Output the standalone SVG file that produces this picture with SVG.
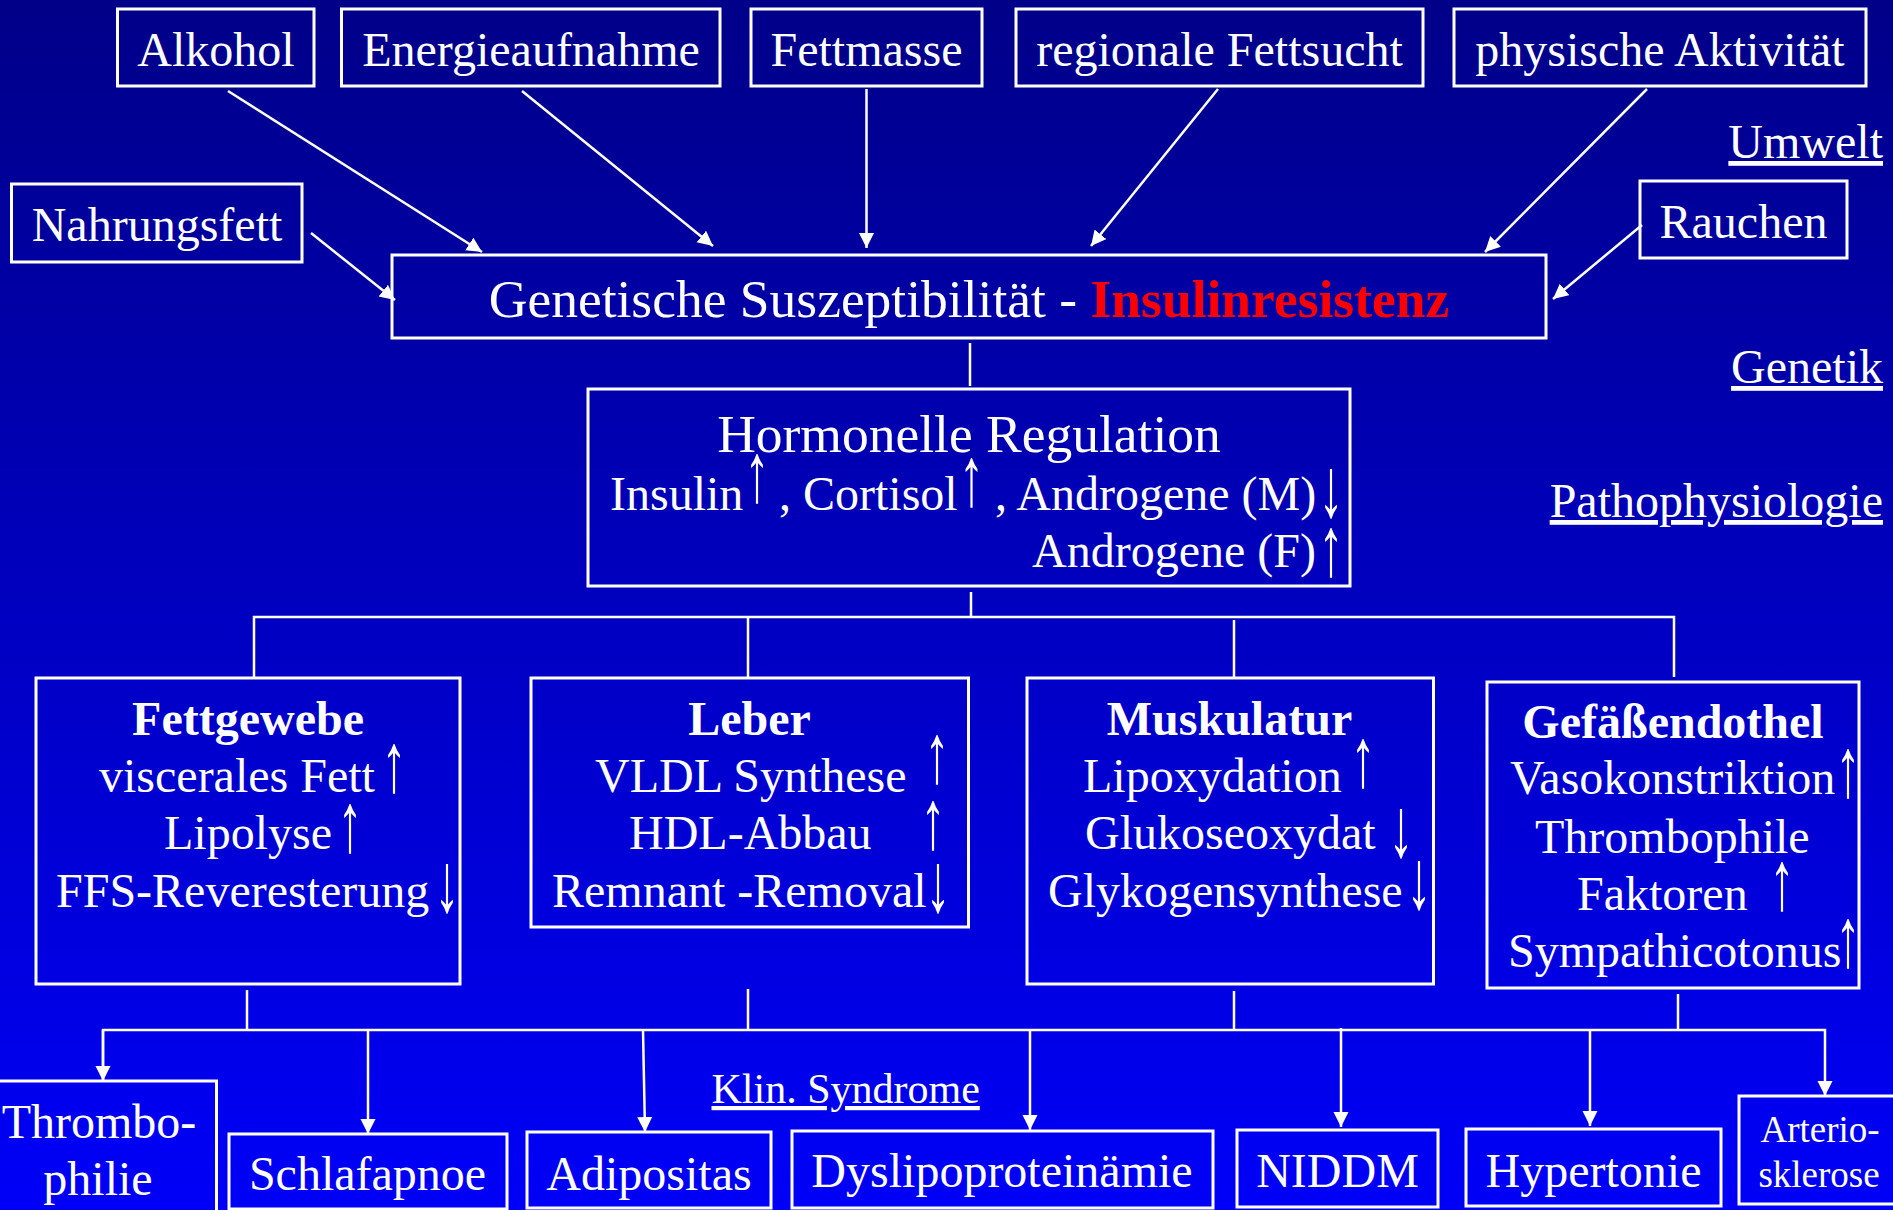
<svg xmlns="http://www.w3.org/2000/svg" width="1893" height="1210" viewBox="0 0 1893 1210">
<defs>
<linearGradient id="bg" x1="0" y1="0" x2="0" y2="1">
<stop offset="0" stop-color="#000088"/>
<stop offset="1" stop-color="#0000F8"/>
</linearGradient>
<marker id="ah" markerUnits="userSpaceOnUse" markerWidth="16" markerHeight="16" refX="15" refY="7.5" orient="auto">
<path d="M0,0 L15,7.5 L0,15 z" fill="#ffffff"/>
</marker>
</defs>
<style>
text{font-family:"Liberation Serif","Times New Roman",serif;fill:#ffffff;font-size:48px}
.box{fill:none;stroke:#ffffff;stroke-width:3}
.c{text-anchor:middle}
.e{text-anchor:end}
.b{font-weight:bold}
.big{font-size:53.5px}
.red{fill:#ff0000;font-weight:bold}
.ar{text-anchor:middle;font-size:84px}
.u{text-decoration:underline}
.sm{font-size:37px}
#connectors line,#connectors path{stroke:#ffffff;stroke-width:2.5;fill:none}
.arr{marker-end:url(#ah)}
</style>
<rect x="0" y="0" width="1893" height="1210" fill="url(#bg)"/>

<g id="connectors">
<line class="arr" x1="228" y1="91" x2="482" y2="252"/>
<line class="arr" x1="522" y1="91" x2="713" y2="246"/>
<line class="arr" x1="866.5" y1="89" x2="866.5" y2="248"/>
<line class="arr" x1="1218" y1="89" x2="1091" y2="246"/>
<line class="arr" x1="1647" y1="89" x2="1485" y2="252"/>
<line class="arr" x1="311" y1="233" x2="395" y2="300"/>
<line class="arr" x1="1642" y1="225" x2="1553" y2="299"/>
<line x1="970" y1="343" x2="970" y2="386"/>
<line x1="971" y1="592" x2="971" y2="617"/>
<path d="M254,677 V617 H1674 V677"/>
<line x1="748" y1="617" x2="748" y2="677"/>
<line x1="1234" y1="620" x2="1234" y2="677"/>
<line x1="247" y1="990" x2="247" y2="1030"/>
<line x1="748" y1="989" x2="748" y2="1030"/>
<line x1="1234" y1="991" x2="1234" y2="1030"/>
<line x1="1678" y1="994" x2="1678" y2="1030"/>
<path class="arr" d="M103,1081 V1030 H1825 V1096"/>
<line class="arr" x1="103" y1="1030" x2="103" y2="1081"/>
<line class="arr" x1="368" y1="1030" x2="368" y2="1134"/>
<line class="arr" x1="643" y1="1030" x2="645" y2="1132"/>
<line class="arr" x1="1030" y1="1030" x2="1030" y2="1130"/>
<line class="arr" x1="1341" y1="1028" x2="1341" y2="1127"/>
<line class="arr" x1="1590" y1="1030" x2="1590" y2="1126"/>
</g>

<g id="alkohol"><rect class="box" x="117.5" y="9" width="196.5" height="77"/><text class="c" x="216" y="66">Alkohol</text></g>
<g id="energieaufnahme"><rect class="box" x="341.5" y="9" width="378.5" height="77"/><text class="c" x="531" y="66">Energieaufnahme</text></g>
<g id="fettmasse"><rect class="box" x="751" y="9" width="231" height="77"/><text class="c" x="866.5" y="66">Fettmasse</text></g>
<g id="regionale-fettsucht"><rect class="box" x="1016" y="9" width="407" height="77"/><text class="c" x="1219.5" y="66">regionale Fettsucht</text></g>
<g id="physische-aktivitaet"><rect class="box" x="1454" y="9" width="412" height="77"/><text class="c" x="1660" y="66">physische Aktivität</text></g>
<g id="nahrungsfett"><rect class="box" x="11.5" y="184" width="290.5" height="78"/><text class="c" x="157" y="241">Nahrungsfett</text></g>
<g id="rauchen"><rect class="box" x="1640" y="181" width="207" height="77"/><text class="c" x="1743.5" y="238">Rauchen</text></g>

<g id="genetische-suszeptibilitaet"><rect class="box" x="392" y="255" width="1154" height="83"/><text class="c big" x="969" y="317">Genetische Suszeptibilität - <tspan class="red">Insulinresistenz</tspan></text></g>

<g id="hormonelle-regulation"><rect class="box" x="588" y="389" width="762" height="197"/>
<text class="c big" x="969" y="452">Hormonelle Regulation</text>
<text x="610" y="510">Insulin</text><text class="ar" transform="translate(757,501) scale(0.6,1)">↑</text>
<text x="779" y="510">, Cortisol</text><text class="ar" transform="translate(971.6,505) scale(0.6,1)">↑</text>
<text x="995" y="510">, Androgene (M)</text><text class="ar" transform="translate(1331,516) scale(0.6,1)">↓</text>
<text class="e" x="1316" y="567">Androgene (F)</text><text class="ar" transform="translate(1331,575) scale(0.6,1)">↑</text>
</g>

<g id="fettgewebe"><rect class="box" x="36" y="678" width="424" height="306"/>
<text class="c b" x="248" y="735">Fettgewebe</text>
<text x="99" y="792">viscerales Fett</text><text class="ar" transform="translate(394,791) scale(0.6,1)">↑</text>
<text x="164" y="849">Lipolyse</text><text class="ar" transform="translate(350,851) scale(0.6,1)">↑</text>
<text x="56" y="907">FFS-Reveresterung</text><text class="ar" transform="translate(447,911) scale(0.6,1)">↓</text>
</g>

<g id="leber"><rect class="box" x="531" y="678" width="437.5" height="249"/>
<text class="c b" x="749.5" y="735">Leber</text>
<text x="595" y="792">VLDL Synthese</text><text class="ar" transform="translate(937,782) scale(0.6,1)">↑</text>
<text x="629" y="849">HDL-Abbau</text><text class="ar" transform="translate(933,848) scale(0.6,1)">↑</text>
<text x="552" y="907">Remnant -Removal</text><text class="ar" transform="translate(938,911) scale(0.6,1)">↓</text>
</g>

<g id="muskulatur"><rect class="box" x="1027" y="678" width="406.5" height="306"/>
<text class="c b" x="1229.5" y="735">Muskulatur</text>
<text x="1083" y="792">Lipoxydation</text><text class="ar" transform="translate(1363,786) scale(0.6,1)">↑</text>
<text x="1085" y="849">Glukoseoxydat</text><text class="ar" transform="translate(1401,856) scale(0.6,1)">↓</text>
<text x="1048" y="907">Glykogensynthese</text><text class="ar" transform="translate(1419,908) scale(0.6,1)">↓</text>
</g>

<g id="gefaessendothel"><rect class="box" x="1487" y="682" width="372" height="306"/>
<text class="c b" x="1673" y="738">Gefäßendothel</text>
<text x="1510" y="794">Vasokonstriktion</text><text class="ar" transform="translate(1848,796) scale(0.6,1)">↑</text>
<text x="1535" y="853">Thrombophile</text>
<text x="1577" y="910">Faktoren</text><text class="ar" transform="translate(1782,909) scale(0.6,1)">↑</text>
<text x="1508" y="967">Sympathicotonus</text><text class="ar" transform="translate(1848,966) scale(0.6,1)">↑</text>
</g>

<g id="labels">
<text class="e u" x="1883" y="158">Umwelt</text>
<text class="e u" x="1883" y="383">Genetik</text>
<text class="e u" x="1883" y="517">Pathophysiologie</text>
<text class="u" x="711.5" y="1103" style="font-size:42px">Klin. Syndrome</text>
</g>

<g id="thrombophilie"><rect class="box" x="-5" y="1081" width="221.5" height="140"/><text class="c" x="99" y="1138">Thrombo-</text><text class="c" x="98" y="1195">philie</text></g>
<g id="schlafapnoe"><rect class="box" x="229" y="1134" width="278" height="75"/><text class="c" x="367.5" y="1190">Schlafapnoe</text></g>
<g id="adipositas"><rect class="box" x="527" y="1132" width="244" height="76"/><text class="c" x="649" y="1190">Adipositas</text></g>
<g id="dyslipoproteinaemie"><rect class="box" x="792" y="1131" width="421" height="77"/><text class="c" x="1002" y="1187">Dyslipoproteinämie</text></g>
<g id="niddm"><rect class="box" x="1237" y="1130" width="201" height="77"/><text class="c" x="1337.5" y="1187">NIDDM</text></g>
<g id="hypertonie"><rect class="box" x="1466" y="1129" width="255" height="77"/><text class="c" x="1593.5" y="1187">Hypertonie</text></g>
<g id="arteriosklerose"><rect class="box" x="1739" y="1096" width="160" height="108"/><text class="c sm" x="1820" y="1142">Arterio-</text><text class="c sm" x="1819" y="1187">sklerose</text></g>
</svg>
